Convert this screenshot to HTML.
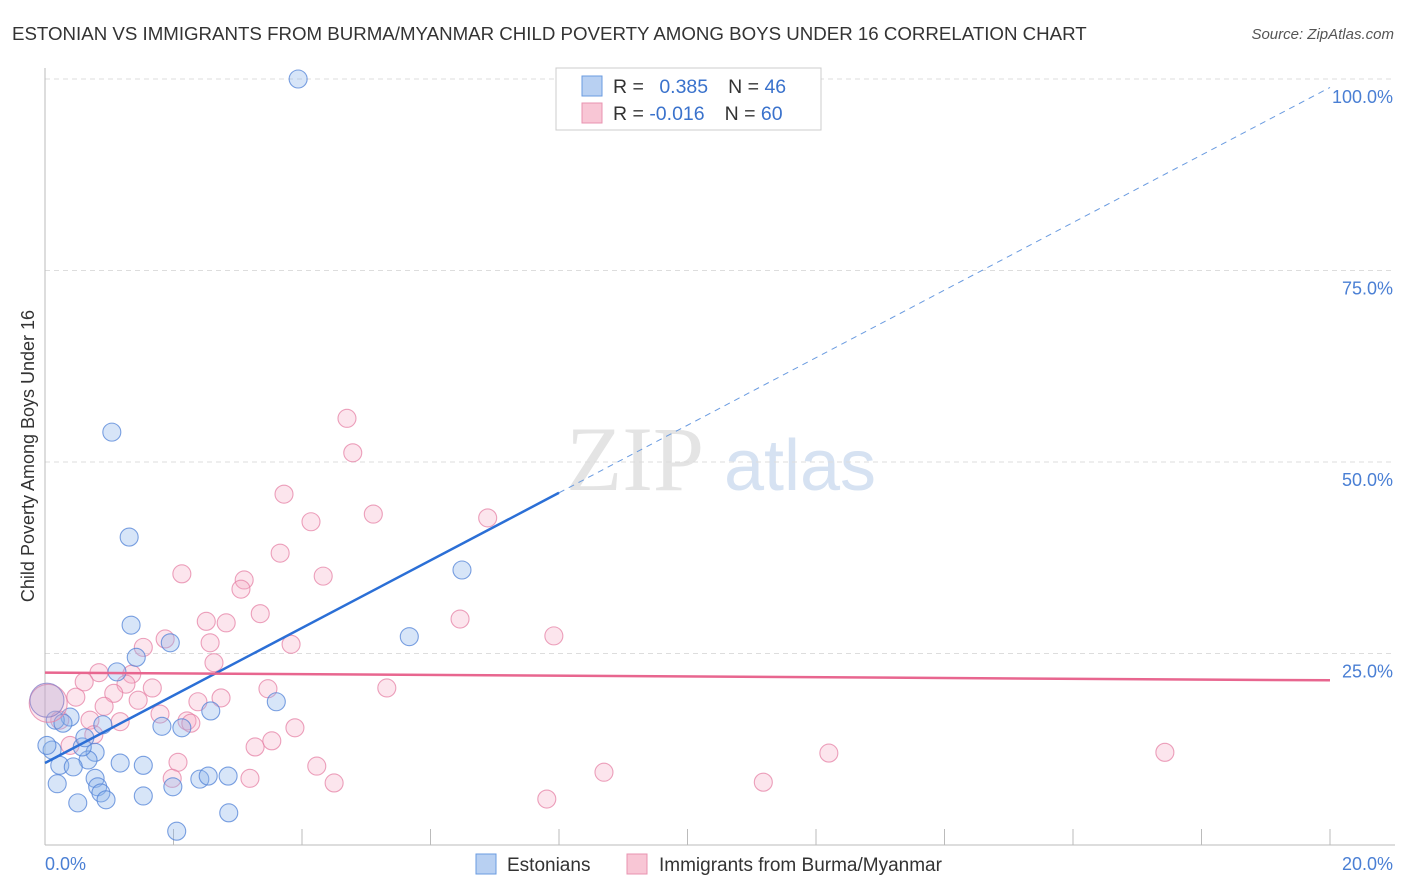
<!DOCTYPE html>
<html><head><meta charset="utf-8"><style>
body{margin:0;background:#fff;font-family:"Liberation Sans",sans-serif;}
#wrap{position:relative;width:1406px;height:892px;overflow:hidden;}
</style></head><body>
<div id="wrap">
<svg id="svg" width="1406" height="892" xmlns="http://www.w3.org/2000/svg">
<text x="12" y="40" font-size="18.7" fill="#333">ESTONIAN VS IMMIGRANTS FROM BURMA/MYANMAR CHILD POVERTY AMONG BOYS UNDER 16 CORRELATION CHART</text>
<text x="1394" y="39" font-size="15" fill="#555" font-style="italic" text-anchor="end">Source: ZipAtlas.com</text>
<text x="0" y="0" transform="translate(34,456) rotate(-90)" font-size="18" fill="#333" text-anchor="middle">Child Poverty Among Boys Under 16</text>
<g><text x="635" y="490" font-size="92" font-family="Liberation Serif,serif" fill="#e4e4e4" text-anchor="middle">ZIP</text><text x="800" y="490" font-size="72" fill="#d6e2f2" text-anchor="middle">atlas</text></g>
<g id="grid"></g><g id="axes"></g><g id="pts"></g><g id="lines"></g>
<g>
<rect x="556" y="68" width="265" height="62" fill="#fff" stroke="#ccc"/>
<rect x="582" y="76" width="20" height="20" fill="#b8d0f2" stroke="#6a9be0"/>
<rect x="582" y="103" width="20" height="20" fill="#f8c6d5" stroke="#e893b0"/>
<text x="613" y="93" font-size="19.5" fill="#333">R = <tspan fill="#3a72cc" dx="10">0.385</tspan><tspan dx="20" fill="#333">N = </tspan><tspan fill="#3a72cc">46</tspan></text>
<text x="613" y="120" font-size="19.5" fill="#333">R = <tspan fill="#3a72cc">-0.016</tspan><tspan dx="20" fill="#333">N = </tspan><tspan fill="#3a72cc">60</tspan></text>
</g>
<g>
<rect x="476" y="854" width="20" height="20" fill="#b8d0f2" stroke="#6a9be0"/>
<text x="507" y="871" font-size="19" fill="#333">Estonians</text>
<rect x="627" y="854" width="20" height="20" fill="#f8c6d5" stroke="#e893b0"/>
<text x="659" y="871" font-size="19" fill="#333">Immigrants from Burma/Myanmar</text>
</g>
</svg>
</div>
<script>
const xTicks=[0,2,4,6,8,10,12,14,16,18,20];
const yTicks=[25,50,75,100];
const yTickLabels=["25.0%","50.0%","75.0%","100.0%"];
const blueX=[3.94,1.04,1.31,6.49,1.34,5.67,1.42,1.95,1.12,3.60,2.58,1.82,2.13,0.90,0.39,0.16,0.78,0.11,0.23,0.67,0.44,1.17,1.53,0.19,0.78,0.82,0.87,0.95,0.51,1.53,1.99,2.41,2.54,2.85,2.86,2.05,0.58,0.28,0.03,0.62];
const blueY=[100,53.9,40.2,35.9,28.7,27.2,24.5,26.4,22.6,18.7,17.5,15.5,15.3,15.7,16.7,16.3,12.1,12.4,10.4,11.1,10.2,10.7,10.4,8.0,8.7,7.6,6.8,5.9,5.5,6.4,7.6,8.6,9.0,9.0,4.2,1.8,12.8,15.9,13.0,14.0];
const pinkX=[4.70,4.79,3.72,4.14,5.11,6.89,3.66,2.13,4.33,3.10,3.05,3.35,2.51,2.82,6.46,7.92,1.87,1.53,2.57,3.83,2.63,0.84,1.35,0.61,1.67,1.26,3.47,5.32,1.07,0.48,2.38,2.74,1.45,0.92,1.79,2.21,2.27,1.17,0.70,0.23,3.89,0.76,3.53,3.27,12.2,17.43,2.07,4.23,8.70,3.19,1.98,11.18,4.50,7.81,0.39];
const pinkY=[55.7,51.2,45.8,42.2,43.2,42.7,38.1,35.4,35.1,34.6,33.4,30.2,29.2,29.0,29.5,27.3,26.9,25.8,26.4,26.2,23.8,22.5,22.3,21.3,20.5,21.0,20.4,20.5,19.8,19.3,18.7,19.2,18.9,18.1,17.1,16.2,15.9,16.1,16.3,16.3,15.3,14.4,13.6,12.8,12.0,12.1,10.8,10.3,9.5,8.7,8.7,8.2,8.1,6.0,13.0];
const bigBlue=[0.03,18.9], bigPink=[0.05,18.5];
const blueFit=[10.7,4.41], pinkFit=[22.5,-0.05];
const X=v=>45+v*64.25, Y=v=>845-v*7.66;
const NS="http://www.w3.org/2000/svg";
function mk(t,a,p){const e=document.createElementNS(NS,t);for(const k in a)e.setAttribute(k,a[k]);p.appendChild(e);return e;}
const grid=document.getElementById('grid'),axes=document.getElementById('axes'),pts=document.getElementById('pts'),lines=document.getElementById('lines');
yTicks.forEach((t,i)=>{
 const l=mk('line',{x1:45,x2:1395,y1:Y(t),y2:Y(t),stroke:'#ddd','stroke-dasharray':'5,4'},grid);
 
 
 const tx=mk('text',{x:1393,y:Y(t)+24,'font-size':18,fill:'#4a7fd4','text-anchor':'end'},axes);tx.textContent=yTickLabels[i];
 
 
});
const ax=mk('line',{x1:45,x2:1395,y1:845,y2:845,stroke:'#bbb'},axes);


const ay=mk('line',{x1:45,x2:45,y1:68,y2:845,stroke:'#bbb'},axes);


xTicks.forEach(t=>{const l=mk('line',{x1:X(t),x2:X(t),y1:829,y2:845,stroke:'#bbb'},axes);
 
 });
[[0,'0.0%','start',45],[20,'20.0%','end',1393]].forEach(a=>{const t=mk('text',{x:a[3],y:870,'font-size':18,fill:'#4a7fd4','text-anchor':a[2]},axes);t.textContent=a[1];
 
 });
function dot(x,y,r,c,name){const e=mk('circle',{cx:X(x),cy:Y(y),r:r,fill:c[0],stroke:c[1],'stroke-width':1.1},pts);
 
 }
const BC=['rgba(140,180,235,0.35)','rgba(80,130,215,0.75)'],PC=['rgba(245,170,195,0.3)','rgba(230,130,165,0.75)'];
pinkX.forEach((x,i)=>dot(x,pinkY[i],9,PC,'point-burma'));
blueX.forEach((x,i)=>dot(x,blueY[i],9,BC,'point-estonian'));
dot(bigPink[0],bigPink[1],19,PC,'point-burma-large');
dot(bigBlue[0],bigBlue[1],17,['rgba(170,160,210,0.3)','rgba(140,130,200,0.8)'],'point-estonian-large');
const bs=mk('line',{x1:X(0),y1:Y(blueFit[0]),x2:X(8),y2:Y(blueFit[0]+blueFit[1]*8),stroke:'#2b6fd6','stroke-width':2.5},lines);


const bd=mk('line',{x1:X(8),y1:Y(blueFit[0]+blueFit[1]*8),x2:X(20),y2:Y(blueFit[0]+blueFit[1]*20),stroke:'#6a9be0','stroke-width':1,'stroke-dasharray':'6,5'},lines);


const pl=mk('line',{x1:X(0),y1:Y(pinkFit[0]),x2:X(20),y2:Y(pinkFit[0]+pinkFit[1]*20),stroke:'#e8668f','stroke-width':2.5},lines);


</script>
</body></html>
